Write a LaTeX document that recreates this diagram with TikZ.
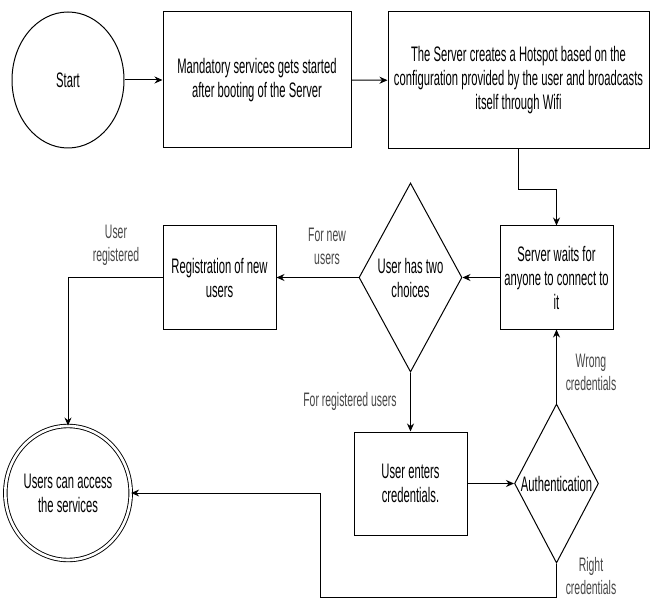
\documentclass[tikz,border=0pt]{standalone}
\usepackage{fontspec}
\newfontfamily\flowfont{Liberation Sans}[FakeStretch=0.535]
\usetikzlibrary{shapes.geometric,arrows.meta}

\begin{document}
\begin{tikzpicture}[x=1pt,y=-1pt,
    flow/.style={-{Stealth[length=8pt,width=7pt]},line width=1pt},
    txt/.style={align=center,inner sep=0pt,font={\flowfont\fontsize{21}{24}\selectfont}},
    lbl/.style={txt,text=black!72,font={\flowfont\fontsize{19.5}{23}\selectfont}},
    box/.style={txt,draw,line width=1pt},
    choicebox/.style={box,diamond},
    oval/.style={box,ellipse}]
  \useasboundingbox (0,0) rectangle (650,601);
  % top row
  \node[oval,minimum width=112pt,minimum height=136pt] (start) at (68,80) {Start};
  \node[box,minimum width=188pt,minimum height=136pt] (boot) at (257,80)
    {Mandatory services gets started\\after booting of the Server};
  \node[box,minimum width=261pt,minimum height=137pt] (hotspot) at (518.5,80.5)
    {The Server creates a Hotspot based on the\\configuration provided by the user and broadcasts\\itself through Wifi};
  % middle row
  \node[box,minimum width=113pt,minimum height=103pt] (wait) at (556.5,277.5)
    {Server waits for\\anyone to connect to\\it};
  \node[choicebox,aspect=0.545,minimum width=103pt,minimum height=189pt] (choice) at (410.5,277.5)
    {User has two\\choices};
  \node[box,minimum width=113pt,minimum height=103pt] (reg) at (219.5,277.5)
    {Registration of new\\users};
  % bottom row
  \node[box,minimum width=113pt,minimum height=103pt] (enter) at (410.5,483.5)
    {User enters\\credentials.};
  \node[choicebox,aspect=0.528,minimum width=84pt,minimum height=159pt] (auth) at (556.5,483.5)
    {Authentication};
  \node[oval,double,double distance=2.6pt,line width=0.9pt,
        minimum width=106pt,minimum height=134pt] (access) at (68,493)
    {Users can access\\the services};
  % connectors
  \draw[flow] (start) -- (boot);
  \draw[flow] (boot) -- (hotspot);
  \draw[flow] (hotspot.south) -- ++(0,40) -| (wait.north);
  \draw[flow] (wait) -- (choice);
  \draw[flow] (choice) -- (reg);
  \draw[flow] (reg.west) -| (access.north);
  \draw[flow] (choice.south) -- (enter.north);
  \draw[flow] (enter) -- (auth);
  \draw[flow] (auth.north) -- (wait.south);
  \coordinate (back) at (320,597);
  \draw[flow] (auth.south) |- (back) |- (access.east);
  % edge labels
  \node[lbl] (newlbl) at (327,246) {For new\\users};
  \node[lbl] (donelbl) at (116,245) {User\\registered};
  \node[lbl] (oldlbl) at (350,401) {For registered users};
  \node[lbl] (wronglbl) at (591,372) {Wrong\\credentials};
  \node[lbl] (rightlbl) at (591,576) {Right\\credentials};
\end{tikzpicture}
\end{document}
